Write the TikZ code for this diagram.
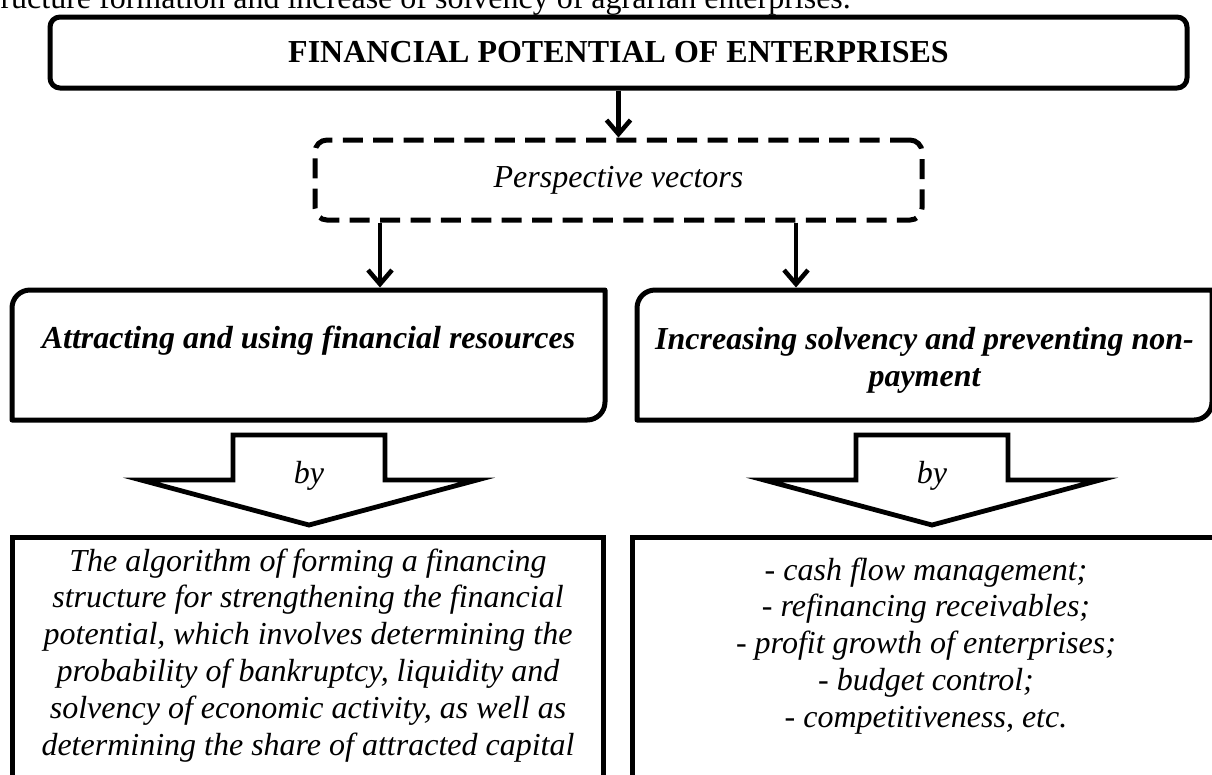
\documentclass[tikz,border=0pt]{standalone}
\usepackage{fontspec}
\setmainfont{Liberation Serif}
\usetikzlibrary{arrows.meta}
\newcommand\dsz{\fontsize{12}{13.8}\selectfont}
\begin{document}
\begin{tikzpicture}[x=0.375pt,y=-0.375pt,
  every node/.style={inner sep=0pt, font=\dsz},
  boxline/.style={line width=1.875pt, line join=round},
  conn/.style={line width=1.7pt, -{Straight Barb[length=5.25pt,width=9pt]}},
  blockarrow/.style={line width=1.8pt, line join=miter},
  holder/.style={outer sep=0.94pt},
]
\clip (0,0) rectangle (1212,774);
% cut-off line of text at the top
\node[anchor=base west] (cut) at (0,8) {ructure formation and increase of solvency of agrarian enterprises.};

% top box
\node[draw, boxline, rounded corners=3.75pt, minimum width=426.375pt, minimum height=26.625pt, font=\dsz\bfseries] (fp) at (618.5,52.5) {FINANCIAL POTENTIAL OF ENTERPRISES};

% dashed box
\node[draw, line width=1.875pt, rounded corners=4.5pt, dash pattern=on 7.5pt off 3.9pt, minimum width=227.625pt, minimum height=30pt, font=\dsz\itshape] (pv) at (618.5,180) {Perspective vectors};

\draw[conn] (fp.south) -- (pv.north);

% middle boxes
\node[holder, minimum width=222.375pt, minimum height=48.75pt] (lb) at (308.5,355) {};
\draw[boxline] (12,420) -- (12,308) arc (180:270:18) -- (605,290) -- (605,402) arc (0:90:18) -- cycle;
\node[font=\dsz\bfseries\itshape, anchor=base] (lbt) at (308.5,348) {Attracting and using financial resources};

\node[holder, minimum width=215.625pt, minimum height=48.75pt] (rb) at (924.5,355) {};
\draw[boxline] (637,420) -- (637,308) arc (180:270:18) -- (1212,290) -- (1212,402) arc (0:90:18) -- cycle;
\node[font=\dsz\bfseries\itshape, align=center, anchor=north] (rbt) at (924.5,327) {Increasing solvency and preventing non-\\payment};

\coordinate (c1) at (380,0);
\coordinate (c2) at (796,0);
\draw[conn] (pv.south -| c1) -- (c1 |- lb.north);
\draw[conn] (pv.south -| c2) -- (c2 |- rb.north);

% block arrows
\draw[blockarrow] (233,435) -- (385,435) -- (385,480) -- (477,480) -- (309,525) -- (141,480) -- (233,480) -- cycle;
\node[font=\dsz\itshape, anchor=base] (by1) at (309,483) {by};
\draw[blockarrow] (856,435) -- (1008,435) -- (1008,480) -- (1100,480) -- (932,525) -- (764,480) -- (856,480) -- cycle;
\node[font=\dsz\itshape, anchor=base] (by2) at (932,483) {by};

% bottom boxes
\node[draw, boxline, line join=miter, minimum width=221.625pt, minimum height=98.625pt] (lbb) at (307.5,668.5) {};
\node[font=\dsz\itshape, align=center, anchor=north] (lbbt) at (308,548) {The algorithm of forming a financing\\structure for strengthening the financial\\potential, which involves determining the\\probability of bankruptcy, liquidity and\\solvency of economic activity, as well as\\determining the share of attracted capital};

\node[draw, boxline, line join=miter, minimum width=224.25pt, minimum height=98.625pt] (rbb) at (931,668.5) {};
\node[font=\dsz\itshape, align=center, anchor=north] (rbbt) at (926,557) {- cash flow management;\\- refinancing receivables;\\- profit growth of enterprises;\\- budget control;\\- competitiveness, etc.};
\end{tikzpicture}
\end{document}
